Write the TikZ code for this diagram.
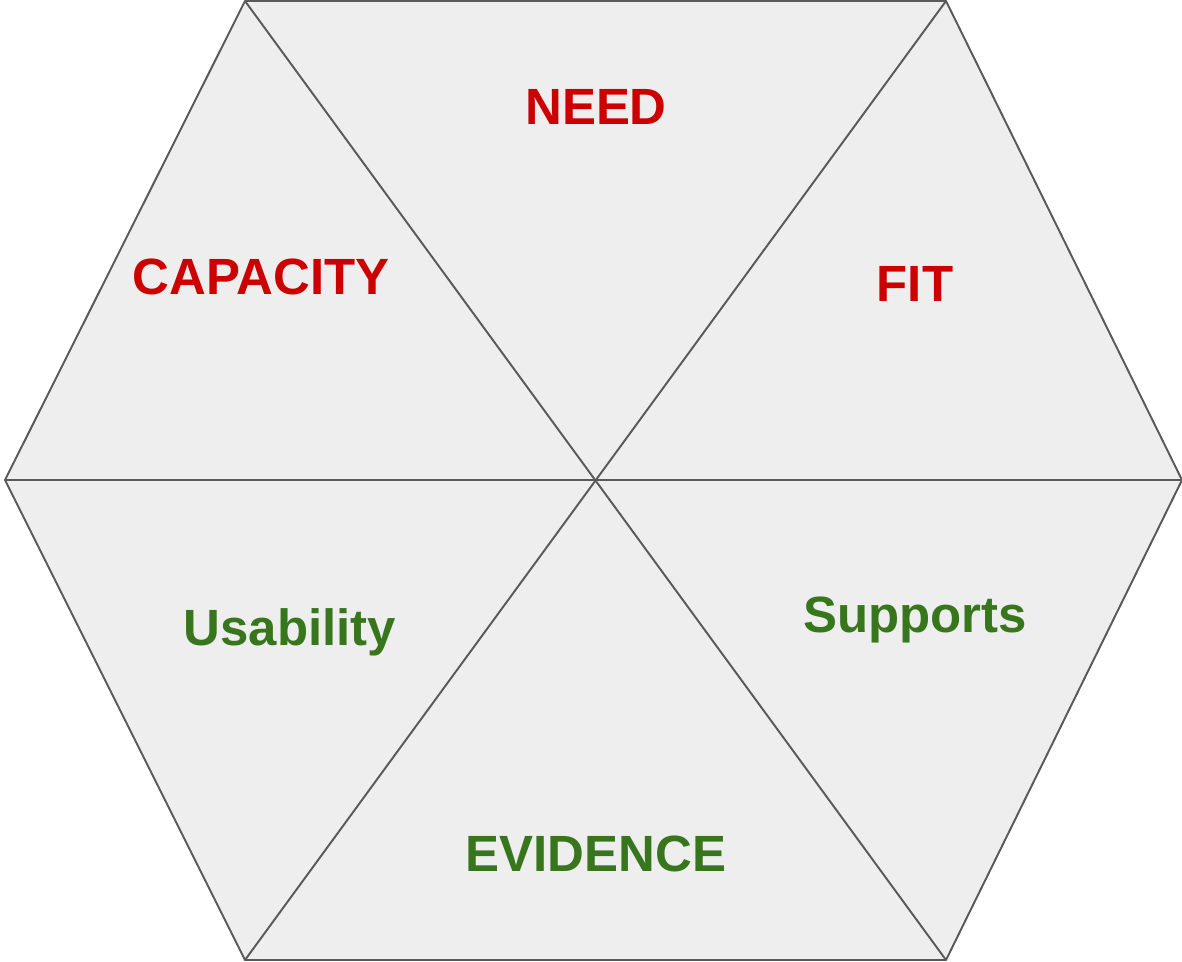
\documentclass[tikz,border=0pt]{standalone}
\usepackage{fontspec}
\setmainfont{Liberation Sans}
\definecolor{hexfill}{HTML}{EEEEEE}
\definecolor{hexline}{HTML}{595959}
\definecolor{needred}{HTML}{CC0000}
\definecolor{goodgreen}{HTML}{38761D}
\tikzset{
  edge/.style={draw=hexline, line width=1.1pt},
  redlabel/.style={anchor=base, text=needred, font=\bfseries\fontsize{29}{29}\selectfont, inner sep=0pt},
  greenlabel/.style={anchor=base, text=goodgreen, font=\bfseries\fontsize{29}{29}\selectfont, inner sep=0pt},
}
\begin{document}
\begin{tikzpicture}[x=0.02cm, y=-0.02cm]
        \useasboundingbox (0,0) rectangle (1182,961);
        \coordinate (tl) at (245,1);
        \coordinate (tr) at (946,1);
        \coordinate (r) at (1182,480);
        \coordinate (br) at (946,960);
        \coordinate (bl) at (245,960);
        \coordinate (l) at (5,480);
        \coordinate (c) at (596,480);
        \fill[hexfill] (tl) -- (tr) -- (r) -- (br) -- (bl) -- (l) -- cycle;
        \draw[edge, line join=round] (tl) -- (tr) -- (r) -- (br) -- (bl) -- (l) -- cycle;
        \draw[edge] (l) -- (r);
        \draw[edge] (tl) -- (br);
        \draw[edge] (tr) -- (bl);
        \node[redlabel] (need) at (596,124) {NEED};
        \node[redlabel] (capacity) at (261,294) {CAPACITY};
        \node[redlabel] (fit) at (915,301) {FIT};
        \node[greenlabel] (usability) at (290,645) {Usability};
        \node[greenlabel] (supports) at (915,632) {Supports};
        \node[greenlabel] (evidence) at (596,871) {EVIDENCE};
\end{tikzpicture}
\end{document}
